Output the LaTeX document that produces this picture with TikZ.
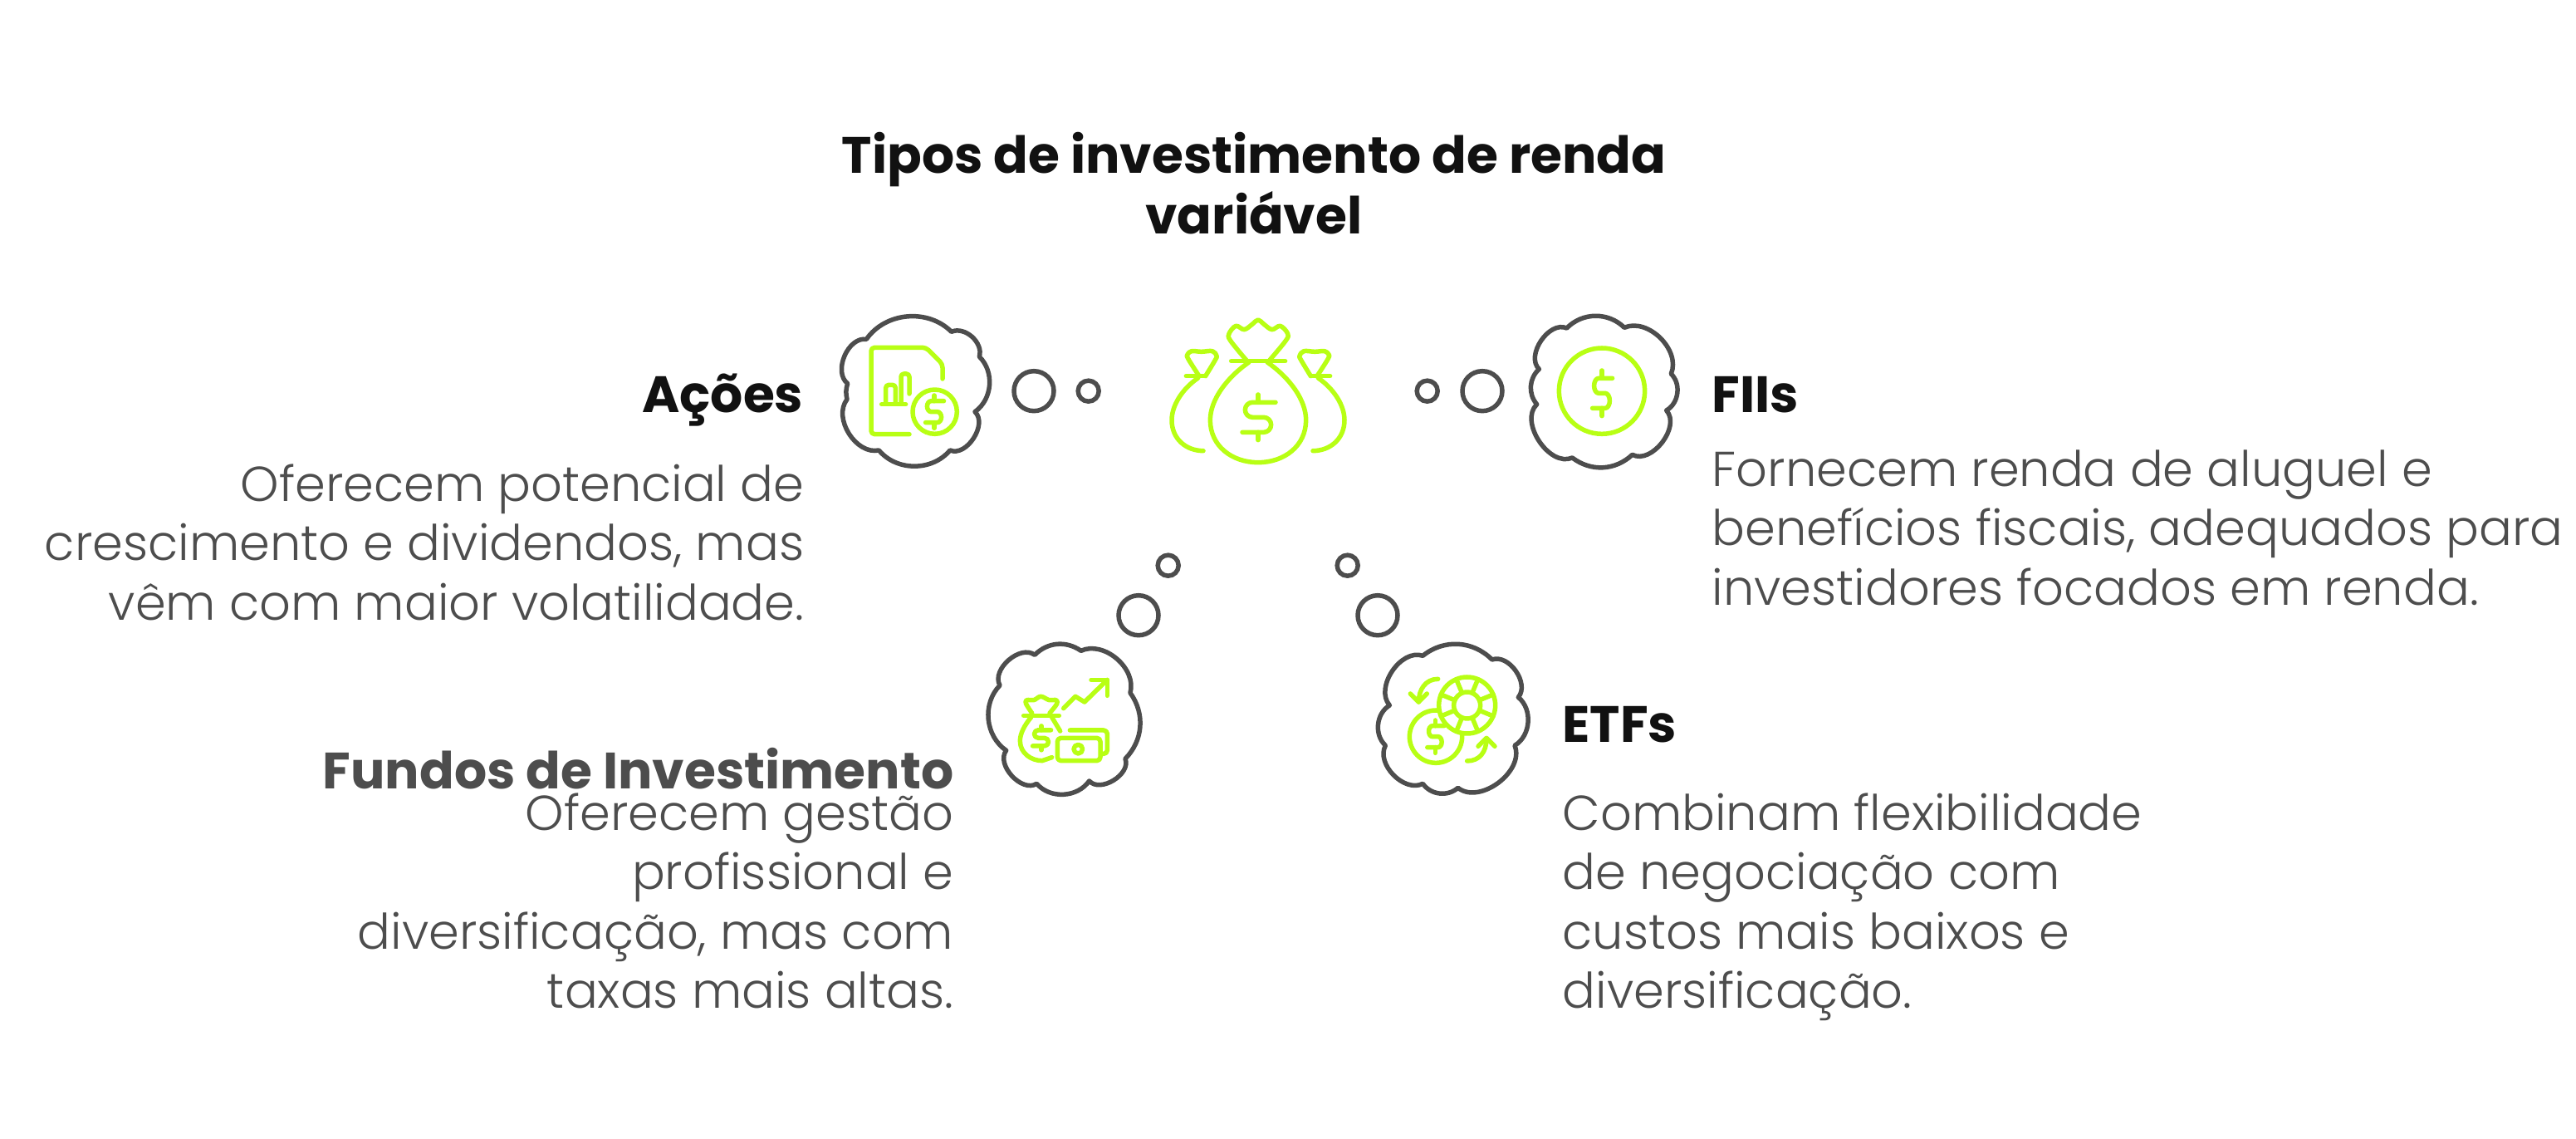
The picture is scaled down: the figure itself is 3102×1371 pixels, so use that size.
\documentclass[tikz,border=0pt]{standalone}
\usepackage{fontspec}
\setmainfont{Poppins}[UprightFont=* Light,BoldFont=* Bold]
\usepackage{tikz}
\usetikzlibrary{positioning}
\definecolor{cloudgray}{HTML}{4D4D4D}
\definecolor{iconlime}{HTML}{B8FF14}
\definecolor{headblack}{HTML}{111111}
\tikzset{
  dollarsign/.pic={
    \draw[iconline] (63,-54) -- (-20,-54) arc (270:90:27) -- (20,0) arc (-90:90:27) -- (-57,54);
    \draw[iconline] (0,-54) -- (0,-82) (0,54) -- (0,82);
  },
  sidebag/.pic={
    \draw[iconline] (-260,278) -- (-190,278);
    \draw[iconline] plot[smooth,tension=0.6] coordinates {(-215,275) (-253,215) (-255,200) (-240,188) (-205,190) (-165,188) (-150,205) (-155,220) (-190,278)};
    \draw[iconline] (-217,285) .. controls (-275,325) and (-312,385) .. (-312,437) .. controls (-312,505) and (-260,548) .. (-198,548);
  }
}
\begin{document}
\begin{tikzpicture}[x=0.1mm,y=-0.1mm,
iconline/.style={iconlime,line width=0.55mm,line cap=round,line join=round},
cloudline/.style={cloudgray,line width=0.55mm,line join=round},
bigbubble/.style={circle,draw=cloudgray,line width=0.55mm,inner sep=0,minimum size=4.8mm},
smallbubble/.style={circle,draw=cloudgray,line width=0.55mm,inner sep=0,minimum size=2.5mm},
titletext/.style={font=\bfseries\fontsize{17.5pt}{20.6pt}\selectfont,text=headblack,align=center,inner sep=0},
headtext/.style={font=\bfseries\fontsize{17.5pt}{20pt}\selectfont,text=headblack,inner sep=0},
bodytext/.style={font=\fontsize{16.8pt}{20.3pt}\selectfont,text=cloudgray,inner sep=0}]
\useasboundingbox (0,0) rectangle (3102,1371);

\node[titletext,anchor=north] (title) at (1510,159) {Tipos de investimento de renda\\variável};

\node[headtext,anchor=base east] (acoeshead) at (968,497) {Ações};
\node[bodytext,anchor=north east,align=right] (acoesbody) at (969,558) {Oferecem potencial de\\crescimento e dividendos, mas\\vêm com maior volatilidade.};
\node[headtext,anchor=base west] (fiishead) at (2061,497) {FIIs};
\node[bodytext,anchor=north west,align=left] (fiisbody) at (2061,541) {Fornecem renda de aluguel e\\benefícios fiscais, adequados para\\investidores focados em renda.};
\node[headtext,anchor=base east,text=cloudgray] (fundoshead) at (1149,950) {Fundos de Investimento};
\node[bodytext,anchor=north east,align=right] (fundosbody) at (1149,954) {Oferecem gestão\\profissional e\\diversificação, mas com\\taxas mais altas.};
\node[headtext,anchor=base west] (etfshead) at (1881,894) {ETFs};
\node[bodytext,anchor=north west,align=left] (etfsbody) at (1881,954) {Combinam flexibilidade\\de negociação com\\custos mais baixos e\\diversificação.};

\node[bigbubble] (acoesbig) at (1245,470.7) {};
\node[smallbubble] (acoessmall) at (1310.7,470.7) {};
\node[smallbubble] (fiissmall) at (1718.7,470.7) {};
\node[bigbubble] (fiisbig) at (1785,470.7) {};
\node[smallbubble] (fundossmall) at (1406.7,680.7) {};
\node[bigbubble] (fundosbig) at (1371,740.7) {};
\node[smallbubble] (etfssmall) at (1622.7,680.7) {};
\node[bigbubble] (etfsbig) at (1659,740.7) {};

% acoes
\begin{scope}[shift={(980,360)},scale=1/3]
\draw[cloudline] (190,145) to[bend left=50] (497,118) to[bend left=65] (598,208) to[bend left=50] (582,407)
  to[bend left=80] (492,546) to[bend left=50] (235,546) to[bend left=70] (120,362) to[bend left=15] (122,305)
  to[bend left=75] (190,145) -- cycle;
\draw[iconline,rounded corners=1.2pt] (345,488) -- (207,488) -- (207,175) -- (405,175) -- (465,235) -- (465,288);
\draw[iconline] (245,380) -- (332,380);
\draw[iconline,rounded corners=1pt] (260,375) -- (260,310) -- (295,310) -- (295,375);
\draw[iconline,rounded corners=1pt] (315,375) -- (315,270) -- (345,270) -- (345,342);
\draw[iconline] (437,407) circle (80);
\pic[xscale=0.183,yscale=0.24] at (435,407) {dollarsign};
\end{scope}

% centro
\begin{scope}[shift={(1380,360)},scale=1/3]
\draw[iconline] (308,224) -- (503,224);
\draw[iconline] plot[smooth,tension=0.6] coordinates {(362,220) (305,150) (300,125) (325,97) (355,110) (385,90) (405,75) (425,90) (455,110) (485,97) (512,125) (505,150) (447,220)};
\draw[iconline] (372,228) .. controls (290,285) and (232,365) .. (232,437) .. controls (232,530) and (310,590) .. (405,590) .. controls (500,590) and (578,530) .. (578,437) .. controls (578,365) and (520,285) .. (438,228);
\pic[scale=1/3] at (405,427) {dollarsign};
\pic[scale=1/3] at (405,0) {sidebag};
\pic[xscale=-1/3,yscale=1/3] at (405,0) {sidebag};
\end{scope}

% fiis
\begin{scope}[shift={(1680,360)},scale=1/3]
\draw[cloudline] (620,105) to[bend left=45] (828,103) to[bend left=68] (997,270) to[bend left=53] (980,402)
  to[bend left=80] (857,562) to[bend left=40] (640,573) to[bend left=80] (512,380) to[bend left=44] (520,253)
  to[bend left=80] (620,105) -- cycle;
\draw[iconline] (747,332) circle (155);
\pic[xscale=0.2,yscale=1/3] at (747,340) {dollarsign};
\end{scope}

% fundos
\begin{scope}[shift={(1170,650)},scale=1/3]
\draw[cloudline] (228,415) to[bend left=40] (395,400) to[bend left=65] (573,552) to[bend left=40] (555,790)
  to[bend left=80] (425,870) to[bend left=52] (235,880) to[bend left=80] (125,760) to[bend left=50] (102,525)
  to[bend left=78] (228,415) -- cycle;
\draw[iconline] (332,608) -- (375,565) -- (408,585) -- (490,505);
\draw[iconline] (432,505) -- (490,505) -- (490,562);
\draw[iconline] (188,634) -- (316,634);
\draw[iconline] plot[smooth,tension=0.6] coordinates {(218,625) (196,590) (200,578) (225,578) (250,565) (280,578) (305,578) (308,592) (282,625)};
\draw[iconline] (215,640) .. controls (190,670) and (175,700) .. (175,725) .. controls (175,770) and (215,797) .. (255,797) -- (290,785);
\draw[iconline] (290,640) -- (320,690);
\pic[xscale=0.183,yscale=0.177] at (252,715) {dollarsign};
\draw[iconline,rounded corners=1.2pt] (310,715) rectangle (465,797);
\draw[iconline,rounded corners=1.2pt] (355,687) -- (490,687) -- (490,772) -- (470,772);
\draw[iconline] (385,755) circle (16);
\end{scope}

% etfs
\begin{scope}[shift={(1600,650)},scale=1/3]
\draw[cloudline] (340,418) to[bend left=42] (590,432) to[bend left=75] (685,568) to[bend left=55] (672,742)
  to[bend left=75] (467,895) to[bend left=48] (340,880) to[bend left=72] (205,742) to[bend left=53] (220,597)
  to[bend left=75] (340,418) -- cycle;
\draw[iconline] (387,710) circle (95);
\pic[xscale=0.167,yscale=0.24] at (385,710) {dollarsign};
\draw[iconline,fill=white] (500,597) circle (102);
\draw[iconline] (500,597) circle (48);
\foreach \ang in {22.5,67.5,...,337.5}
  \draw[iconline] (500,597) ++(\ang:48) -- ++(\ang:54);
\draw[iconline] (395,502) .. controls (350,502) and (325,540) .. (325,585);
\draw[iconline] (295,555) -- (325,585) -- (355,555);
\draw[iconline] (500,798) .. controls (545,798) and (570,765) .. (570,718);
\draw[iconline] (540,745) -- (570,715) -- (600,745);
\end{scope}
\end{tikzpicture}
\end{document}
